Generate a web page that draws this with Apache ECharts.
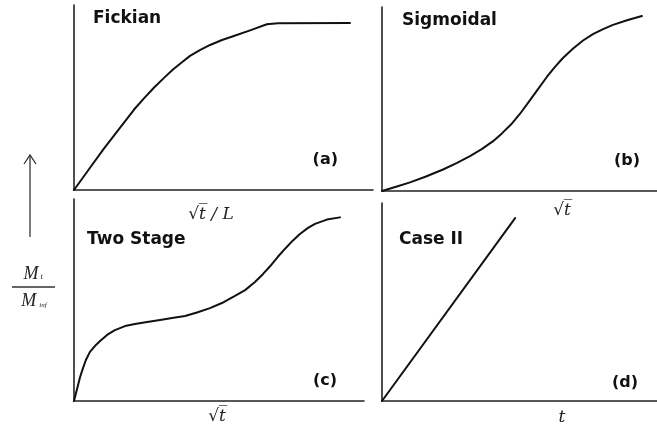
<!DOCTYPE html>
<html><head><meta charset="utf-8">
<script src="https://cdn.jsdelivr.net/npm/echarts@6/dist/echarts.min.js"></script>
<style>html,body{margin:0;padding:0;background:#fff}#c{width:657px;height:430px}</style>
</head><body><div id="c"></div>
<script>
// Panel titles and labels
const panelTitles = ['Fickian', 'Sigmoidal', 'Two Stage', 'Case II'];
const panelTags = ['(a)', '(b)', '(c)', '(d)'];
const xLabels = ['√t̅ / L', '√t̅', '√t̅', 't'];

// (a) Fickian — normalised x and y (0–100)
const fickX = [0, 5.0, 10.0, 15.1, 20.1, 23.4, 26.8, 30.1, 33.1, 36.1, 38.8, 42.1, 45.5, 49.5, 53.2, 58.9, 64.5, 68.2, 92.3];
const fickY = [0, 11.2, 22.4, 33.0, 43.5, 49.5, 55.4, 60.6, 65.1, 69.1, 72.5, 75.6, 78.4, 81.1, 83.1, 86.3, 89.6, 90.2, 90.3];

// (b) Sigmoidal
const sigX = [0, 5.1, 10.2, 16.0, 22.2, 27.3, 32.0, 36.4, 40.4, 43.6, 46.9, 50.2, 53.1, 56.4, 60.0, 62.9, 65.8, 69.5, 73.1, 76.7, 80.4, 84.0, 89.1, 94.5];
const sigY = [0, 2.3, 4.7, 7.9, 11.7, 15.3, 19.0, 22.9, 27.1, 31.3, 36.1, 42.0, 47.9, 54.7, 62.1, 67.5, 72.3, 77.4, 81.8, 85.3, 88.0, 90.3, 92.8, 95.1];

// (c) Two stage
const twoX = [0, 0.7, 1.4, 2.1, 3.1, 4.1, 5.5, 7.2, 9.0, 11.4, 14.1, 17.6, 21.0, 25.2, 29.7, 33.8, 38.3, 42.4, 46.9, 51.0, 55.5, 59.0, 62.4, 65.2, 67.6, 70.3, 72.8, 75.5, 77.9, 80.7, 83.1, 87.2, 91.7];
const twoY = [0, 4.0, 7.9, 11.9, 16.3, 20.3, 24.3, 27.2, 29.7, 32.7, 35.1, 37.1, 38.1, 39.1, 40.1, 41.1, 42.1, 43.8, 46.0, 48.5, 52.0, 54.9, 58.9, 62.9, 66.7, 71.4, 75.4, 79.5, 82.7, 85.7, 87.7, 89.8, 90.9];

// (d) Case II
const caseX = [0, 48.4];
const caseY = [0, 92.4];

const pairs = (xs, ys) => xs.map((x, i) => [x, ys[i]]);

const grids = [
  {left: 74, top: 5, width: 299, height: 185},
  {left: 382, top: 7, width: 275, height: 184},
  {left: 74, top: 199, width: 290, height: 202},
  {left: 382, top: 203, width: 275, height: 198}
];

const axisCommon = {
  type: 'value', min: 0, max: 100,
  axisLine: {show: true, onZero: false, lineStyle: {color: '#222', width: 1.6}},
  axisTick: {show: false}, axisLabel: {show: false}, splitLine: {show: false}
};

const seriesData = [pairs(fickX, fickY), pairs(sigX, sigY), pairs(twoX, twoY), pairs(caseX, caseY)];

const titlePos = [[93, 19], [402, 21], [87, 240], [399, 240]];
const tagPos = [[338, 160], [640, 161], [337, 381], [638, 383]];
const xlabPos = [[211, 215], [562, 211], [217, 417], [562, 418]];

const graphic = [];
panelTitles.forEach((t, i) => graphic.push({type: 'text', style: {text: t, x: titlePos[i][0], y: titlePos[i][1], font: 'bold 17px "DejaVu Sans"', fill: '#111', align: 'left', verticalAlign: 'middle'}}));
panelTags.forEach((t, i) => graphic.push({type: 'text', style: {text: t, x: tagPos[i][0], y: tagPos[i][1], font: 'bold 16px "DejaVu Sans"', fill: '#111', align: 'right', verticalAlign: 'middle'}}));
xLabels.forEach((t, i) => graphic.push({type: 'text', style: {text: t, x: xlabPos[i][0], y: xlabPos[i][1], font: 'italic 17px "DejaVu Serif"', fill: '#222', align: 'center', verticalAlign: 'middle'}}));

// y-axis label arrow and fraction
graphic.push({type: 'line', shape: {x1: 30, y1: 237, x2: 30, y2: 156}, style: {stroke: '#333', lineWidth: 1.3}});
graphic.push({type: 'polyline', shape: {points: [[24, 164], [30, 155], [36, 164]]}, style: {stroke: '#333', lineWidth: 1.3, fill: null}});
graphic.push({type: 'text', style: {text: '{m|M}{s|t}', x: 33, y: 274, align: 'center', verticalAlign: 'middle',
  rich: {m: {font: 'italic 18px "Liberation Serif"', fill: '#222'}, s: {font: 'italic 8px "Liberation Serif"', fill: '#222', padding: [6, 0, 0, 2]}}}});
graphic.push({type: 'line', shape: {x1: 12, y1: 287, x2: 55, y2: 287}, style: {stroke: '#333', lineWidth: 1.3}});
graphic.push({type: 'text', style: {text: '{m|M}{s|inf}', x: 34, y: 301, align: 'center', verticalAlign: 'middle',
  rich: {m: {font: 'italic 18px "Liberation Serif"', fill: '#222'}, s: {font: 'italic 7px "Liberation Serif"', fill: '#222', padding: [8, 0, 0, 3]}}}});

const chart = echarts.init(document.getElementById('c'), null, {renderer: 'canvas'});
chart.setOption({
  animation: false,
  backgroundColor: '#fff',
  grid: grids,
  xAxis: grids.map((g, i) => Object.assign({gridIndex: i}, axisCommon)),
  yAxis: grids.map((g, i) => Object.assign({gridIndex: i}, axisCommon)),
  series: seriesData.map((d, i) => ({
    type: 'line', xAxisIndex: i, yAxisIndex: i, data: d,
    showSymbol: false, smooth: false,
    lineStyle: {color: '#111', width: 2, join: 'round', cap: 'round'}
  })),
  graphic: graphic
});
</script></body></html>
